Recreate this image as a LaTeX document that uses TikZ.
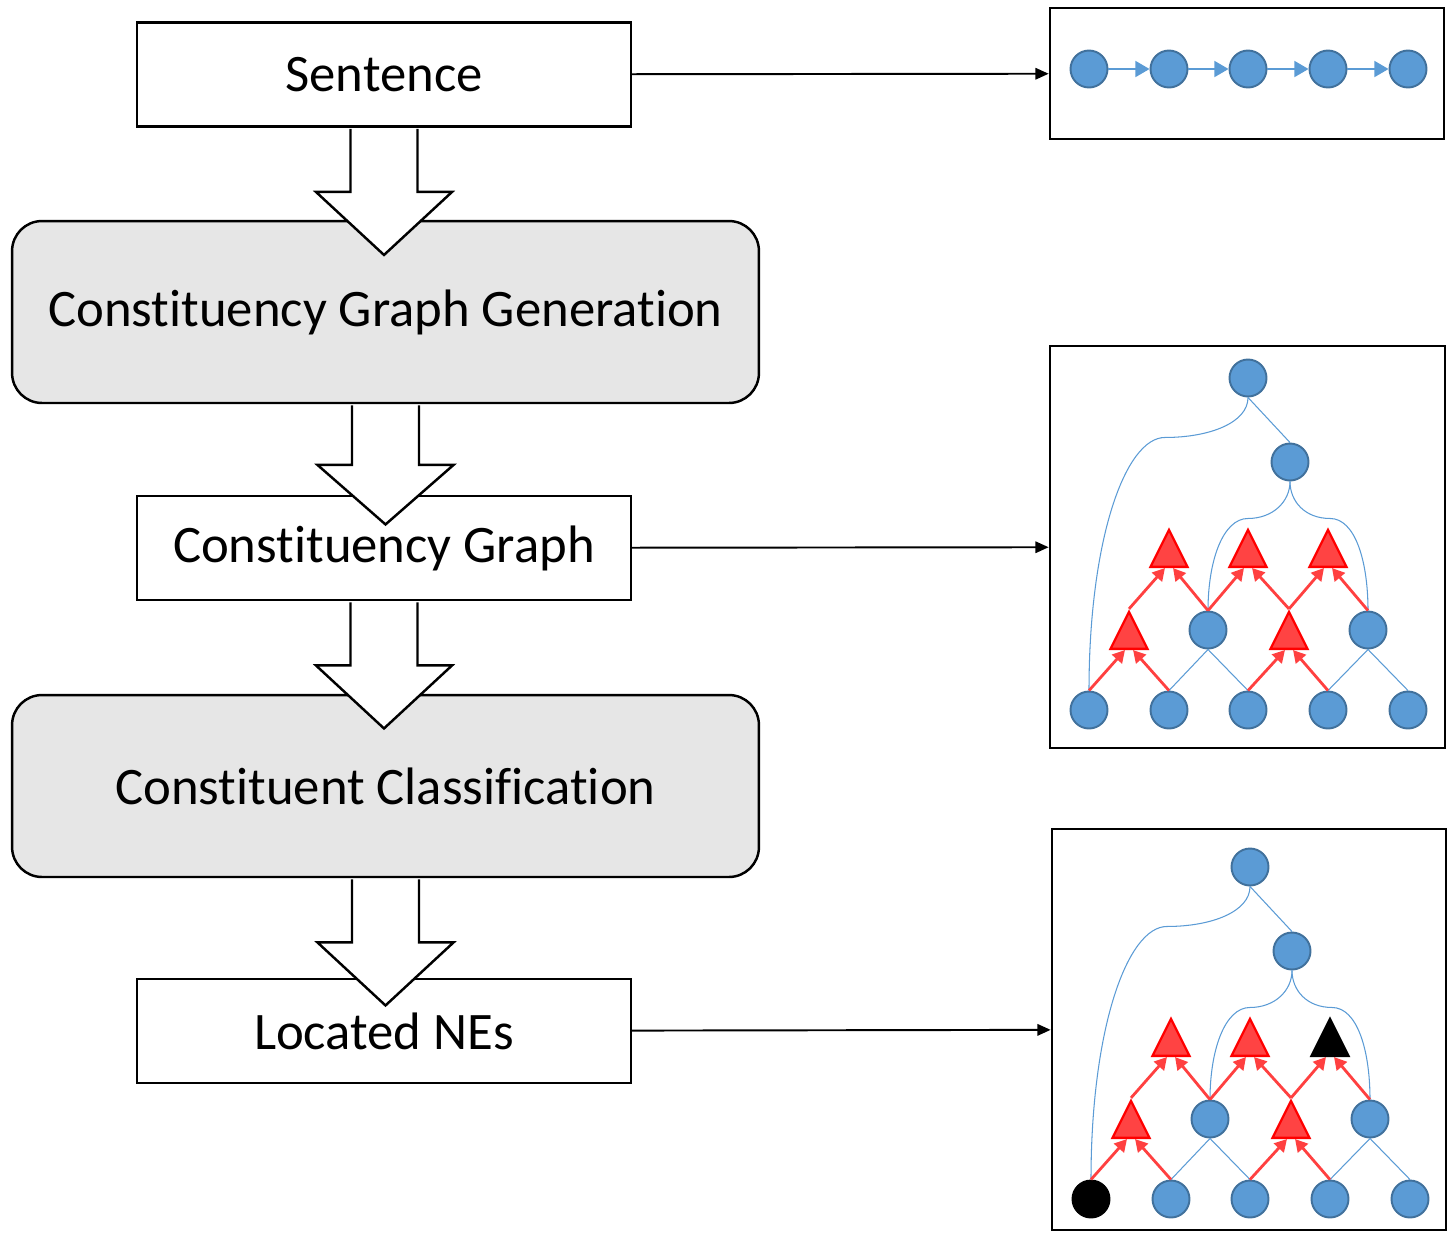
\documentclass[tikz,border=0pt]{standalone}
\usepackage{fontspec}
\setmainfont{Carlito}[RawFeature={-liga;-clig;-calt;-dlig}]
\usepackage{tikz}
\usetikzlibrary{calc,arrows.meta,shapes,positioning}

\definecolor{boxgray}{HTML}{E6E6E6}
\definecolor{nodeblue}{HTML}{5B9BD5}
\definecolor{nodeedge}{HTML}{41719C}
\definecolor{trired}{HTML}{FF4343}
\definecolor{arrred}{HTML}{FF4040}

\tikzset{
  stepbox/.style={draw, line width=1.4pt, fill=white, minimum width=9.88cm, minimum height=2.08cm, inner sep=0pt, font=\fontsize{30}{36}\selectfont},
  procbox/.style={stepbox, rounded corners=0.6cm, fill=boxgray, minimum width=14.94cm, minimum height=3.64cm},
  panel/.style={draw, line width=1.6pt, inner sep=0pt},
  leaf/.style={circle, fill=nodeblue, draw=nodeedge, line width=1.1pt, minimum size=0.74cm, inner sep=0pt},
  redtri/.style={isosceles triangle, isosceles triangle stretches, shape border rotate=90, fill=trired, draw=red, line width=1.3pt, minimum width=0.74cm, minimum height=0.74cm, inner sep=0pt},
  blk/.style={fill=black, draw=black},
  redarr/.style={draw=arrred, line width=1.6pt, -{Triangle[length=7pt,width=7.5pt]}},
  blueline/.style={draw=nodeblue, line width=0.6pt},
  outarr/.style={line width=1.1pt, -{Triangle[length=7.5pt,width=6.5pt]}},
  chainarr/.style={draw=nodeblue, line width=1.1pt, -{Triangle[length=8pt,width=9pt]}}
}

% hollow block arrow below a box, #1 = half length
\newcommand{\bigdown}[2][63]{%
  \draw[fill=white, line width=1.4pt] ([xshift=-0.67cm,yshift=-0.7pt]#2.south) -- ++(0,-#1) -- ++(-34.5,0) -- ++(68,-#1) -- ++(68,#1) -- ++(-34.5,0) -- ++(0,#1);
}

% constituency graph, #1 = first leaf, #2 = last top triangle
\newcommand{\consttree}[2]{%
  \node[leaf] (r) at (1248,-378) {};
  \node[leaf] (m) at (1290,-462) {};
  \node[leaf] (a) at (1208,-630) {};
  \node[leaf] (b) at (1368,-630) {};
  \node[leaf,#1] (l1) at (1089,-710) {};
  \node[leaf] (l2) at (1169,-710) {};
  \node[leaf] (l3) at (1248,-710) {};
  \node[leaf] (l4) at (1328,-710) {};
  \node[leaf] (l5) at (1408,-710) {};
  \node[redtri,anchor=south] (t1) at (1129,-650) {};
  \node[redtri,anchor=south] (t2) at (1289,-650) {};
  \node[redtri,anchor=south] (u1) at (1169,-568) {};
  \node[redtri,anchor=south] (u2) at (1248,-568) {};
  \node[redtri,#2,anchor=south] (u3) at (1328,-568) {};
  % tree edges
  \draw[blueline] (r.south) -- (m.north);
  \draw[blueline] (r.south) .. controls +(0,-25) and +(45,0) .. ++(-83,-40) .. controls +(-40,0) and +(0,150) .. (l1.north);
  \draw[blueline] (m.south) .. controls +(0,-20) and +(25,0) .. ++(-42,-37) .. controls +(-25,0) and +(0,50) .. (a.north);
  \draw[blueline] (m.south) .. controls +(0,-20) and +(-25,0) .. ++(40,-37) .. controls +(25,0) and +(0,50) .. (b.north);
  \draw[blueline] (a.south) -- (l2.north);
  \draw[blueline] (a.south) -- (l3.north);
  \draw[blueline] (b.south) -- (l4.north);
  \draw[blueline] (b.south) -- (l5.north);
  % span arrows
  \draw[redarr] (l1.north) -- ([xshift=-0.08cm]t1.south);
  \draw[redarr] (l2.north) -- ([xshift=0.08cm]t1.south);
  \draw[redarr] (l3.north) -- ([xshift=-0.08cm]t2.south);
  \draw[redarr] (l4.north) -- ([xshift=0.08cm]t2.south);
  \draw[redarr] (t1.north) -- ([xshift=-0.08cm]u1.south);
  \draw[redarr] (a.north) -- ([xshift=0.08cm]u1.south);
  \draw[redarr] (a.north) -- ([xshift=-0.08cm]u2.south);
  \draw[redarr] (t2.north) -- ([xshift=0.08cm]u2.south);
  \draw[redarr] (t2.north) -- ([xshift=-0.08cm]u3.south);
  \draw[redarr] (b.north) -- ([xshift=0.08cm]u3.south);
}

\begin{document}
\begin{tikzpicture}[x=0.02cm,y=0.02cm]
\useasboundingbox (0,0) rectangle (1448,-1232);

\node[procbox] (gen) at (385.5,-312) {Constituency Graph Generation};
\node[procbox] (cls) at (385.5,-786) {Constituent Classification};
\node[stepbox] (sent) at (384,-74.5) {Sentence};
\node[stepbox] (graph) at (384,-548) {Constituency Graph};
\node[stepbox] (nes) at (384,-1031) {Located NEs};

\bigdown{sent}
\bigdown[59.5]{gen}
\bigdown{graph}
\bigdown{cls}

\node[panel, minimum width=7.88cm, minimum height=2.62cm] (p1) at (1247,-73.5) {};
\node[panel, minimum width=7.9cm, minimum height=8.04cm] (p2) at (1247.5,-547) {};
\node[panel, minimum width=7.88cm, minimum height=8.02cm] (p3) at (1249,-1029.5) {};

\draw[outarr] (sent) -- (p1);
\draw[outarr] (graph) -- (p2);
\draw[outarr] (nes) -- (p3);

% word sequence
\foreach \i/\x in {1/1089,2/1169,3/1248,4/1328,5/1408}
  \node[leaf] (s\i) at (\x,-69) {};
\foreach \i/\j in {1/2,2/3,3/4,4/5}
  \draw[chainarr] (s\i) -- (s\j);

\consttree{}{}
\begin{scope}[shift={(2,-489)}]
\consttree{blk}{blk}
\end{scope}

\end{tikzpicture}
\end{document}
